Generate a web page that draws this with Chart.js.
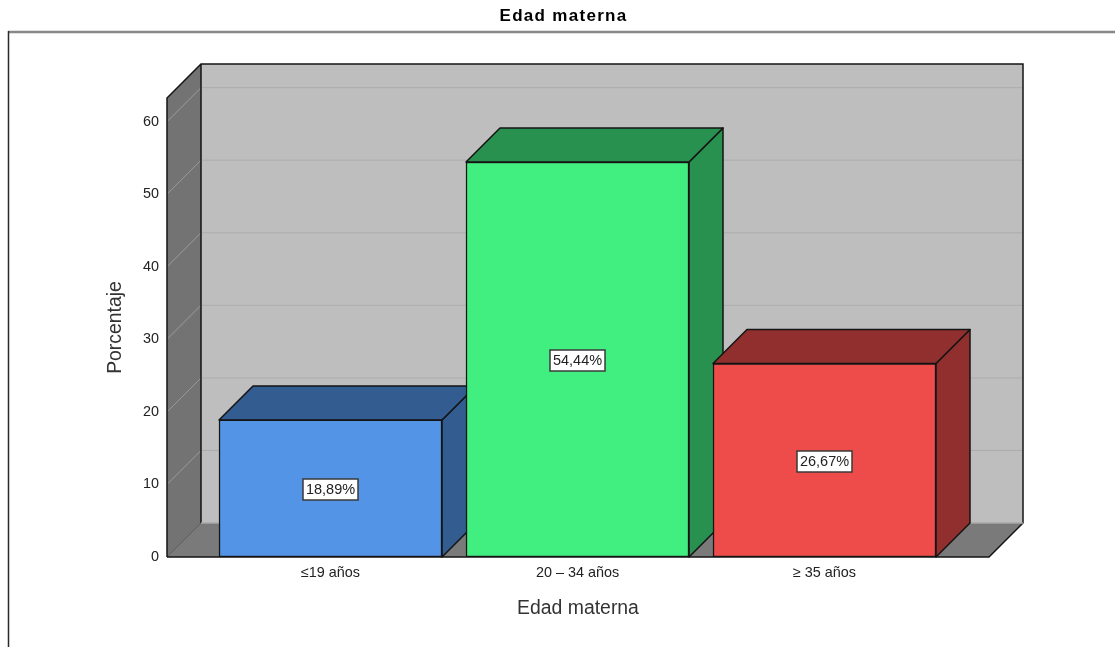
<!DOCTYPE html>
<html>
<head>
<meta charset="utf-8">
<style>
  html, body { margin: 0; padding: 0; background: #fff; }
  canvas { display: block; }
</style>
<script src="https://cdn.jsdelivr.net/npm/chart.js@4"></script>
</head>
<body>
<canvas id="chart" width="1115" height="647"></canvas>
<script>
const categories = ['≤19 años', '20 – 34 años', '≥ 35 años'];
const percentages = [18.89, 54.44, 26.67];
const valueLabels = ['18,89%', '54,44%', '26,67%'];
const frontColors = ['#5394E6', '#41EE80', '#EE4B4B'];
const shadeColors = ['#335C91', '#289150', '#912F2F'];
const yTicks = [0, 10, 20, 30, 40, 50, 60];

const FONT = '"Liberation Sans", Arial, sans-serif';
const DEPTH = 34;
const EDGE = '#141414';

function poly(ctx, pts, fill, stroke, width) {
  ctx.beginPath();
  pts.forEach((p, i) => i ? ctx.lineTo(p[0], p[1]) : ctx.moveTo(p[0], p[1]));
  ctx.closePath();
  if (fill) { ctx.fillStyle = fill; ctx.fill(); }
  if (stroke) { ctx.strokeStyle = stroke; ctx.lineWidth = width || 1.5; ctx.lineJoin = 'round'; ctx.stroke(); }
}

// Box walls, floor and the receding side and top faces of each bar.
const extrusion = {
  id: 'extrusion',
  beforeDraw(chart) {
    const ctx = chart.ctx;
    // The heading is set with open tracking.
    const block = chart.titleBlock;
    if (block && !block.tracked) {
      const drawBlock = block.draw;
      block.draw = function () {
        ctx.save();
        ctx.letterSpacing = '1.3px';
        drawBlock.call(this);
        ctx.restore();
      };
      block.tracked = true;
    }
    ctx.save();
    ctx.fillStyle = '#fff';
    ctx.fillRect(0, 0, chart.width, chart.height);
    ctx.strokeStyle = '#888888';
    ctx.lineWidth = 2.5;
    ctx.beginPath(); ctx.moveTo(8, 32); ctx.lineTo(chart.width, 32); ctx.stroke();
    ctx.strokeStyle = '#2a2a2a';
    ctx.lineWidth = 1.5;
    ctx.beginPath(); ctx.moveTo(8.5, 31); ctx.lineTo(8.5, chart.height); ctx.stroke();
    ctx.restore();
  },
  beforeDatasetsDraw(chart) {
    const ctx = chart.ctx;
    const { left: l, right: r, top: t, bottom: b } = chart.chartArea;
    const y = chart.scales.y;
    const d = DEPTH;
    ctx.save();
    poly(ctx, [[l + d, t - d], [r + d, t - d], [r + d, b - d], [l + d, b - d]], '#BEBEBE');
    poly(ctx, [[l, t], [l + d, t - d], [l + d, b - d], [l, b]], '#737373');
    poly(ctx, [[l, b], [l + d, b - d], [r + d, b - d], [r, b]], '#7A7A7A');

    yTicks.forEach(v => {
      if (v === 0) return;
      const py = y.getPixelForValue(v);
      ctx.lineWidth = 1;
      ctx.strokeStyle = '#9C9C9C';
      ctx.beginPath(); ctx.moveTo(l, py); ctx.lineTo(l + d, py - d); ctx.stroke();
      ctx.strokeStyle = '#ADADAD';
      ctx.beginPath(); ctx.moveTo(l + d, py - d); ctx.lineTo(r + d, py - d); ctx.stroke();
    });
    ctx.strokeStyle = '#5E5E5E';
    ctx.lineWidth = 1;
    ctx.beginPath(); ctx.moveTo(l, b); ctx.lineTo(l + d, b - d); ctx.stroke();

    ctx.strokeStyle = EDGE;
    ctx.lineWidth = 1.5;
    ctx.beginPath();
    ctx.moveTo(l, b); ctx.lineTo(l, t); ctx.lineTo(l + d, t - d); ctx.lineTo(r + d, t - d);
    ctx.lineTo(r + d, b - d); ctx.lineTo(r, b); ctx.lineTo(l, b);
    ctx.moveTo(l + d, t - d); ctx.lineTo(l + d, b - d);
    ctx.stroke();
    ctx.strokeStyle = '#A8A8A8';
    ctx.beginPath(); ctx.moveTo(l + d, b - d); ctx.lineTo(r + d, b - d); ctx.stroke();

    chart.getDatasetMeta(0).data.forEach((bar, i) => {
      const x0 = bar.x - bar.width / 2, x1 = bar.x + bar.width / 2;
      const top = bar.y, base = bar.base;
      poly(ctx, [[x1, top], [x1 + d, top - d], [x1 + d, base - d], [x1, base]], shadeColors[i], EDGE);
      poly(ctx, [[x0, top], [x0 + d, top - d], [x1 + d, top - d], [x1, top]], shadeColors[i], EDGE);
    });
    ctx.restore();
  },
  // Boxed percentage at the middle of every front face.
  afterDatasetsDraw(chart) {
    const ctx = chart.ctx;
    ctx.save();
    ctx.font = '14.5px ' + FONT;
    ctx.textAlign = 'center';
    ctx.textBaseline = 'middle';
    chart.getDatasetMeta(0).data.forEach((bar, i) => {
      const cx = Math.round(bar.x) - 0.5;
      const cy = Math.round((bar.y + bar.base) / 2) + 1.5;
      const w = Math.round(ctx.measureText(valueLabels[i]).width) + 6;
      const h = 21;
      ctx.fillStyle = '#fff';
      ctx.fillRect(cx - w / 2, cy - h / 2, w, h);
      ctx.strokeStyle = '#3a3a3a';
      ctx.lineWidth = 1.5;
      ctx.strokeRect(cx - w / 2, cy - h / 2, w, h);
      ctx.fillStyle = '#222';
      ctx.fillText(valueLabels[i], cx, cy + 0.5);
    });
    ctx.restore();
  }
};

new Chart(document.getElementById('chart'), {
  type: 'bar',
  data: {
    datasets: [{
      label: 'Porcentaje',
      data: percentages.map((v, i) => ({ x: i, y: v })),
      backgroundColor: frontColors,
      borderColor: EDGE,
      borderWidth: 1.5,
      borderSkipped: false,
      barThickness: 223
    }]
  },
  options: {
    responsive: false,
    animation: false,
    layout: { padding: { left: 12, right: 0, top: 0, bottom: 0 } },
    plugins: {
      legend: { display: false },
      tooltip: { enabled: false },
      title: {
        display: true,
        text: 'Edad materna',
        color: '#000',
        font: { family: FONT, size: 17, weight: 'bold' },
        padding: { top: 6.2, bottom: 71.4 }
      }
    },
    scales: {
      x: {
        type: 'linear',
        offset: false,
        min: -0.662,
        max: 2.666,
        afterBuildTicks(scale) { scale.ticks = categories.map((_, i) => ({ value: i })); },
        afterFit(scale) { scale.height = 90; },
        grid: { display: false, drawTicks: false },
        border: { display: false },
        ticks: {
          callback: v => categories[v],
          autoSkip: false,
          maxRotation: 0,
          padding: 7,
          color: '#222',
          font: { family: FONT, size: 14.4 }
        },
        title: {
          display: true,
          text: 'Edad materna',
          color: '#333',
          font: { family: FONT, size: 19.4 },
          padding: { top: 0, bottom: 27 }
        }
      },
      y: {
        min: 0,
        max: 63.26,
        afterBuildTicks(scale) { scale.ticks = yTicks.map(v => ({ value: v })); },
        afterFit(scale) { scale.width = 155; },
        grid: { display: false, drawTicks: false },
        border: { display: false },
        ticks: {
          padding: 8,
          color: '#222',
          font: { family: FONT, size: 14.4 }
        },
        title: {
          display: true,
          text: 'Porcentaje',
          color: '#333',
          font: { family: FONT, size: 19.4 },
          padding: { top: 91.8, bottom: 0 }
        }
      },
      gutter: {
        position: 'right',
        min: 0,
        max: 1,
        afterFit(scale) { scale.width = 126; },
        grid: { display: false },
        border: { display: false },
        ticks: { display: false }
      }
    }
  },
  plugins: [extrusion]
});
</script>
</body>
</html>
